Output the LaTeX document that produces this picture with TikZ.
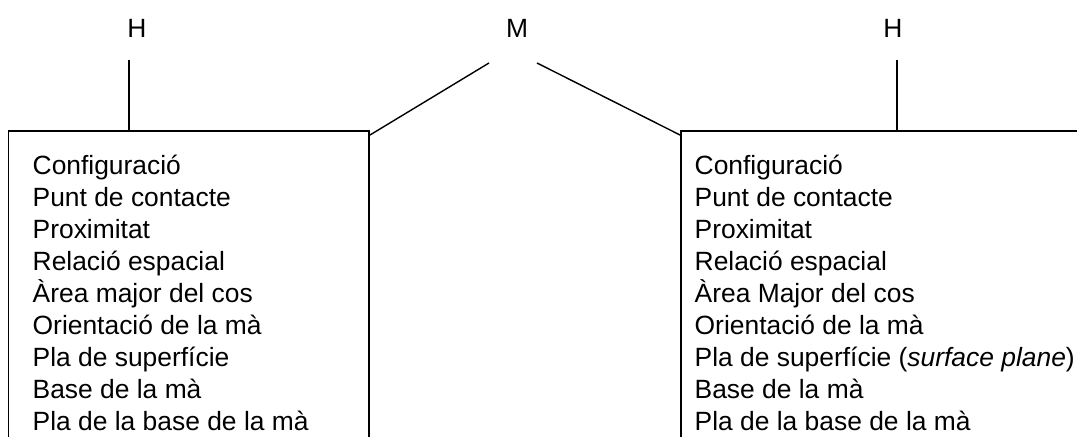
\documentclass[tikz,border=0pt]{standalone}
\usepackage{fontspec}
\setmainfont{Liberation Sans}
\usetikzlibrary{positioning}

\begin{document}
\begin{tikzpicture}[x=0.5pt, y=-0.5pt, line width=0.7pt,
  toplabel/.style={inner sep=0pt, font=\fontsize{13.2}{15.3}\selectfont},
  feature/.style={inner sep=0pt, text height=10pt, text depth=5.3pt, font=\fontsize{13.2}{15.3}\selectfont}]
\useasboundingbox (0,0) rectangle (1077,437);

% heads
\node (HL) [toplabel] at (137,28.5) {H};
\node (M)  [toplabel] at (517,28.5) {M};
\node (HR) [toplabel] at (893,28.5) {H};

% left box
\coordinate (LTL) at (8.5,131);
\coordinate (LTR) at (369,131);
\coordinate (LH) at (129,131);
\draw (8.5,437) -- (LTL) -- (LTR) -- (369,437);
\draw (129,60) -- (LH);
\draw (489,63) -- (370,135);

% right box
\coordinate (RTL) at (681,131);
\coordinate (RH) at (897,131);
\draw (681,437) -- (RTL) -- (1077,131);
\draw (897,60) -- (RH);
\draw (537,63) -- (680,135);

% left list
\node (L1) [feature, anchor=base west] at (32,175) {Configuració};
\node (L2) [feature, below=0pt of L1.south west, anchor=north west] {Punt de contacte};
\node (L3) [feature, below=0pt of L2.south west, anchor=north west] {Proximitat};
\node (L4) [feature, below=0pt of L3.south west, anchor=north west] {Relació espacial};
\node (L5) [feature, below=0pt of L4.south west, anchor=north west] {Àrea major del cos};
\node (L6) [feature, below=0pt of L5.south west, anchor=north west] {Orientació de la mà};
\node (L7) [feature, below=0pt of L6.south west, anchor=north west] {Pla de superfície};
\node (L8) [feature, below=0pt of L7.south west, anchor=north west] {Base de la mà};
\node (L9) [feature, below=0pt of L8.south west, anchor=north west] {Pla de la base de la mà};

% right list
\node (R1) [feature, anchor=base west] at (694,175) {Configuració};
\node (R2) [feature, below=0pt of R1.south west, anchor=north west] {Punt de contacte};
\node (R3) [feature, below=0pt of R2.south west, anchor=north west] {Proximitat};
\node (R4) [feature, below=0pt of R3.south west, anchor=north west] {Relació espacial};
\node (R5) [feature, below=0pt of R4.south west, anchor=north west] {Àrea Major del cos};
\node (R6) [feature, below=0pt of R5.south west, anchor=north west] {Orientació de la mà};
\node (R7) [feature, below=0pt of R6.south west, anchor=north west] {Pla de superfície (\textit{surface plane})};
\node (R8) [feature, below=0pt of R7.south west, anchor=north west] {Base de la mà};
\node (R9) [feature, below=0pt of R8.south west, anchor=north west] {Pla de la base de la mà};
\end{tikzpicture}
\end{document}
